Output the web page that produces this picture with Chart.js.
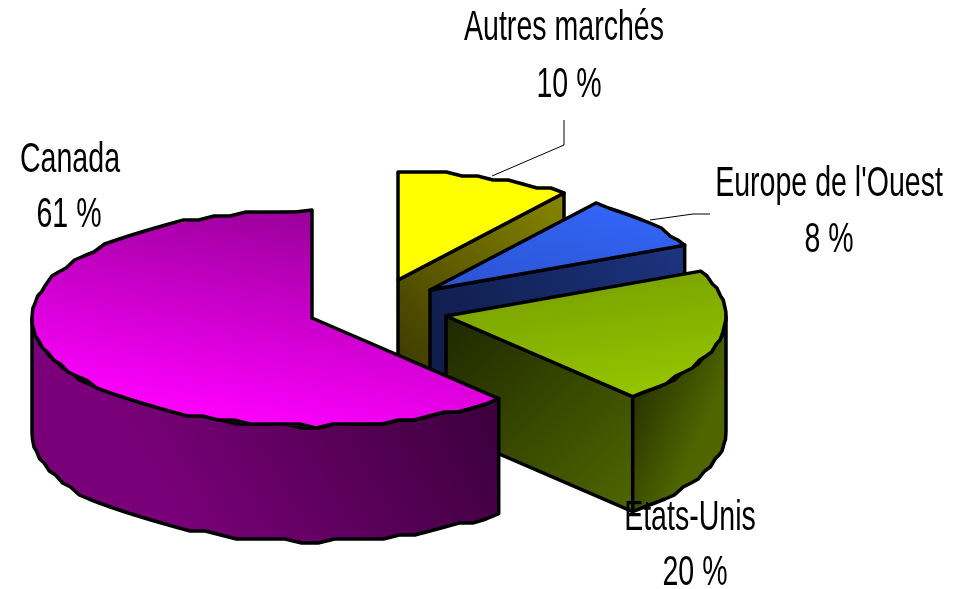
<!DOCTYPE html>
<html>
<head>
<meta charset="utf-8">
<style>
  html, body { margin: 0; padding: 0; background: #fff; }
  canvas { display: block; }
</style>
<script src="https://cdn.jsdelivr.net/npm/chart.js@4/dist/chart.umd.min.js"></script>
</head>
<body>
<canvas id="marketChart" width="965" height="589"></canvas>
<script>
const categories = ['Autres marchés', "Europe de l'Ouest", 'Etats-Unis', 'Canada'];
const shareValues = [10, 8, 20, 61];

// exploded slice centres on screen, the pie itself is squashed to a 3D look
const sliceCenters = [[398, 280], [430, 290], [446, 316], [312, 318]];
const pieRadius = 280;
const squash = 0.386;
const depth = 115;

// top face gradient, in units of the radius: [u0, v0, u1, v1, colour0, colour1]
const topShades = [
    [0, 0, 1, 0, '#ffff00', '#ffff00'],
    [0.1, 0.1, 0.6, -1, '#2a52cc', '#3468ff'],
    [0.1, -0.8, 0.75, 0.9, '#6c9000', '#99cc00'],
    [0.55, -1, -0.35, 0.95, '#8c008c', '#ff00ff']
];
// cut face and outer wall gradients, in screen pixels
const faceShades = [
    [560, 193, 398, 360, '#858500', '#403c00'],
    [684, 245, 430, 370, '#1c3480', '#0e1c48'],
    [445, 316, 632, 508, '#1e2800', '#4f6600'],
    null
];
const wallShades = [
    null,
    null,
    [632, 410, 700, 440, '#2b3600', '#4f6600'],
    [200, 570, 500, 400, '#7a007a', '#3a003a']
];

const labelFont = '42px "Liberation Sans", Arial, sans-serif';
const labelStretch = 0.68;
const labelSpots = [
    [564, 40, 569, 97],
    [829, 196, 829, 252],
    [690, 530, 695, 585],
    [70, 172, 69, 227]
];
const leaderLines = [
    [[492, 176], [564, 145], [564, 120]],
    [[650, 220], [693, 214], [710, 214]]
];

function screenGradient(ctx, s) {
    const g = ctx.createLinearGradient(s[0], s[1], s[2], s[3]);
    g.addColorStop(0, s[4]);
    g.addColorStop(1, s[5]);
    return g;
}

function outline(ctx) {
    ctx.lineWidth = 3.5;
    ctx.lineJoin = 'round';
    ctx.strokeStyle = '#000';
    ctx.stroke();
}

// the reference rim is a coarse stepped polyline, not a clean ellipse
function rimPoints(cx, cy, from, to) {
    const pts = [];
    const n = Math.max(2, Math.ceil((to - from) / 0.06));
    for (let i = 0; i <= n; i++) {
        const a = from + (to - from) * i / n;
        const x = cx + pieRadius * Math.cos(a);
        let y = cy + pieRadius * squash * Math.sin(a);
        if (i > 0 && i < n) y = Math.round(y / 4) * 4;
        pts.push([x, y]);
    }
    return pts;
}

function drawFace(ctx, cx, cy, angle, shade) {
    const rx = cx + pieRadius * Math.cos(angle);
    const ry = cy + pieRadius * squash * Math.sin(angle);
    ctx.beginPath();
    ctx.moveTo(cx, cy);
    ctx.lineTo(rx, ry);
    ctx.lineTo(rx, ry + depth);
    ctx.lineTo(cx, cy + depth);
    ctx.closePath();
    ctx.fillStyle = screenGradient(ctx, shade);
    ctx.fill();
    outline(ctx);
}

function drawWall(ctx, cx, cy, from, to, shade) {
    const a0 = Math.max(from, 0);
    const a1 = Math.min(to, Math.PI);
    if (a1 <= a0) return;
    const rim = rimPoints(cx, cy, a0, a1);
    ctx.beginPath();
    rim.forEach(p => ctx.lineTo(p[0], p[1]));
    rim.slice().reverse().forEach(p => ctx.lineTo(p[0], p[1] + depth));
    ctx.closePath();
    ctx.fillStyle = screenGradient(ctx, shade);
    ctx.fill();
    outline(ctx);
}

const exploded3d = {
    id: 'exploded3d',
    beforeDatasetDraw(chart) {
        const ctx = chart.ctx;
        const arcs = chart.getDatasetMeta(0).data;

        arcs.forEach((arc, i) => {
            const [cx, cy] = sliceCenters[i];
            if (faceShades[i]) drawFace(ctx, cx, cy, arc.endAngle, faceShades[i]);
            if (wallShades[i]) drawWall(ctx, cx, cy, arc.startAngle, arc.endAngle, wallShades[i]);

            const t = topShades[i];
            const r = arc.outerRadius;
            const g = ctx.createLinearGradient(arc.x + t[0] * r, arc.y + t[1] * r, arc.x + t[2] * r, arc.y + t[3] * r);
            g.addColorStop(0, t[4]);
            g.addColorStop(1, t[5]);
            arc.options.backgroundColor = g;

            ctx.save();
            ctx.translate(cx, cy);
            ctx.scale(1, squash);
            ctx.translate(-arc.x, -arc.y);
            arc.draw(ctx);
            ctx.restore();

            ctx.beginPath();
            ctx.moveTo(cx, cy);
            rimPoints(cx, cy, arc.startAngle, arc.endAngle).forEach(p => ctx.lineTo(p[0], p[1]));
            ctx.closePath();
            outline(ctx);
        });
        return false;
    },
    afterDatasetsDraw(chart) {
        const ctx = chart.ctx;
        ctx.save();
        ctx.lineWidth = 1;
        ctx.strokeStyle = '#000';
        leaderLines.forEach(pts => {
            ctx.beginPath();
            pts.forEach((p, i) => i ? ctx.lineTo(p[0], p[1]) : ctx.moveTo(p[0], p[1]));
            ctx.stroke();
        });
        ctx.restore();

        ctx.fillStyle = '#000';
        ctx.font = labelFont;
        ctx.textAlign = 'center';
        ctx.textBaseline = 'alphabetic';
        categories.forEach((name, i) => {
            const s = labelSpots[i];
            [[name, s[0], s[1]], [shareValues[i] + ' %', s[2], s[3]]].forEach(([text, x, y]) => {
                ctx.save();
                ctx.translate(x, y);
                ctx.scale(labelStretch, 1);
                ctx.fillText(text, 0, 0);
                ctx.restore();
            });
        });
    }
};

new Chart(document.getElementById('marketChart').getContext('2d'), {
    type: 'pie',
    data: {
        labels: categories,
        datasets: [{
            data: shareValues,
            backgroundColor: ['#ffff00', '#3366ff', '#99cc00', '#ff00ff'],
            borderWidth: 0
        }]
    },
    options: {
        responsive: false,
        animation: false,
        radius: pieRadius,
        rotation: 0,
        plugins: {
            legend: { display: false },
            tooltip: { enabled: false }
        }
    },
    plugins: [exploded3d]
});
</script>
</body>
</html>
